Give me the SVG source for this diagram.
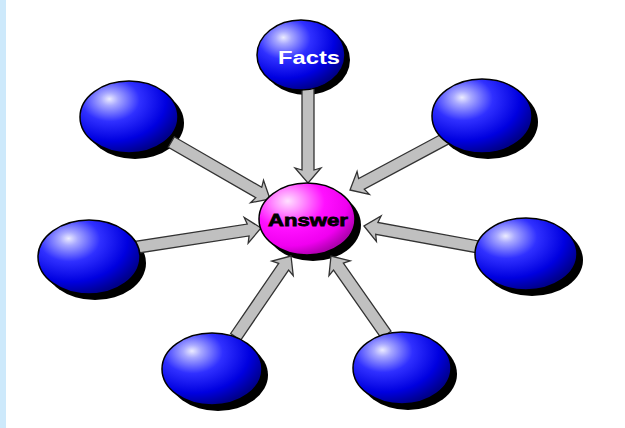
<svg xmlns="http://www.w3.org/2000/svg" width="625" height="428" viewBox="0 0 625 428">
<defs>
<radialGradient id="blue" cx="0.32" cy="0.28" r="0.75" fx="0.3" fy="0.25">
<stop offset="0" stop-color="#ececff"/>
<stop offset="0.12" stop-color="#a8a8ff"/>
<stop offset="0.4" stop-color="#3030ff"/>
<stop offset="0.75" stop-color="#0000e0"/>
<stop offset="1" stop-color="#00008a"/>
</radialGradient>
<radialGradient id="pink" cx="0.32" cy="0.28" r="0.75" fx="0.3" fy="0.25">
<stop offset="0" stop-color="#ffe0ff"/>
<stop offset="0.2" stop-color="#ff90ff"/>
<stop offset="0.5" stop-color="#ff10ff"/>
<stop offset="0.8" stop-color="#f000f0"/>
<stop offset="1" stop-color="#b000b0"/>
</radialGradient>
</defs>
<style>
.ball{fill:url(#blue);stroke:#000;stroke-width:1.5}
.ans{fill:url(#pink);stroke:#000;stroke-width:1.5}
.sh{fill:#000}
.arr{fill:#c0c0c0;stroke:#333;stroke-width:1.3;stroke-linejoin:miter}
.lbl{font-family:"Liberation Sans",Arial,sans-serif;font-weight:bold;text-anchor:middle}
</style>
<rect x="0" y="0" width="625" height="428" fill="#fff"/>
<rect x="0" y="0" width="6" height="428" fill="#cde9fb"/>
<g id="shadows">
<ellipse class="sh" cx="306" cy="60" rx="44" ry="35"/>
<ellipse class="sh" cx="135" cy="123" rx="49" ry="36"/>
<ellipse class="sh" cx="95" cy="263" rx="51" ry="37"/>
<ellipse class="sh" cx="218" cy="375" rx="50" ry="36"/>
<ellipse class="sh" cx="408" cy="374" rx="49" ry="36"/>
<ellipse class="sh" cx="532" cy="260" rx="51" ry="36"/>
<ellipse class="sh" cx="488" cy="122" rx="50" ry="37"/>
<ellipse class="sh" cx="313" cy="225" rx="48" ry="36"/>
</g>
<g id="connectors">
<path class="arr" transform="translate(308,183) rotate(90)" d="M0,0 L-15,-13 L-13,-6 L-98,-6 L-98,6 L-13,6 L-15,13 Z"/>
<path class="arr" transform="translate(270,199) rotate(30)" d="M0,0 L-15,-13 L-13,-6 L-114,-6 L-114,6 L-13,6 L-15,13 Z"/>
<path class="arr" transform="translate(261,228) rotate(-8.8)" d="M0,0 L-15,-13 L-13,-6 L-126,-6 L-126,6 L-13,6 L-15,13 Z"/>
<path class="arr" transform="translate(291,256) rotate(-55.6)" d="M0,0 L-15,-13 L-13,-6 L-98,-6 L-98,6 L-13,6 L-15,13 Z"/>
<path class="arr" transform="translate(331,256) rotate(-125)" d="M0,0 L-15,-13 L-13,-6 L-96,-6 L-96,6 L-13,6 L-15,13 Z"/>
<path class="arr" transform="translate(364,226) rotate(-169.6)" d="M0,0 L-15,-13 L-13,-6 L-118,-6 L-118,6 L-13,6 L-15,13 Z"/>
<path class="arr" transform="translate(350,190) rotate(151.8)" d="M0,0 L-15,-13 L-13,-6 L-112,-6 L-112,6 L-13,6 L-15,13 Z"/>
</g>
<g id="facts">
<ellipse class="ball" cx="301" cy="55" rx="44" ry="35"/>
<text class="lbl" x="309" y="64" font-size="18" fill="#fff" textLength="62" lengthAdjust="spacingAndGlyphs">Facts</text>
</g>
<g id="node-top-left"><ellipse class="ball" cx="129" cy="117" rx="49" ry="36"/></g>
<g id="node-left"><ellipse class="ball" cx="89" cy="257" rx="51" ry="37"/></g>
<g id="node-bottom-left"><ellipse class="ball" cx="212" cy="369" rx="50" ry="36"/></g>
<g id="node-bottom-right"><ellipse class="ball" cx="402" cy="368" rx="49" ry="36"/></g>
<g id="node-right"><ellipse class="ball" cx="526" cy="254" rx="51" ry="36"/></g>
<g id="node-top-right"><ellipse class="ball" cx="482" cy="116" rx="50" ry="37"/></g>
<g id="answer">
<ellipse class="ans" cx="307" cy="219" rx="48" ry="36"/>
<text class="lbl" x="308" y="226" font-size="17" fill="#000" stroke="#000" stroke-width="0.8" textLength="80" lengthAdjust="spacingAndGlyphs">Answer</text>
</g>
</svg>
